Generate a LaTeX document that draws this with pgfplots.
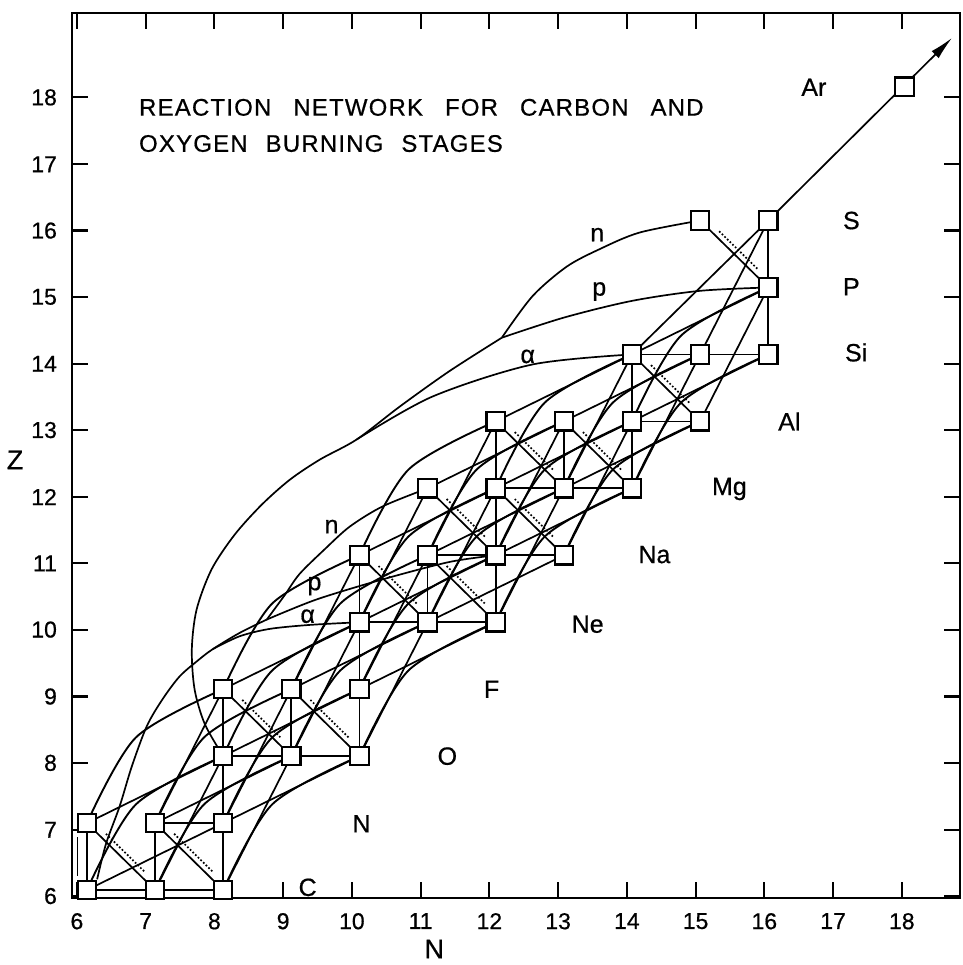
\documentclass[border=0pt]{standalone}
\usepackage{fontspec}
\setmainfont{Liberation Sans}[FakeBold=0.6]
\newfontfamily\lett[LetterSpace=5, FakeBold=0.6]{Liberation Sans}
\newfontfamily\lbl[FakeBold=0.6]{Liberation Sans}
\usepackage{pgfplots}
\pgfplotsset{compat=1.18}
\usetikzlibrary{arrows.meta}
\pgfplotsset{
  net/.style={black, line width=0.85pt, no markers, unbounded coords=jump},
  dots/.style={black, line width=0.85pt, densely dotted, no markers, unbounded coords=jump},
  arc/.style={black, line width=0.95pt, no markers, smooth},
  hion/.style={black, line width=0.85pt, no markers, smooth},
}
\begin{document}
\begin{tikzpicture}
\begin{axis}[
  scale only axis, width=444.5pt, height=443pt,
  xmin=5.78, xmax=18.815, ymin=5.88, ymax=19.10,
  axis line style={line width=1.3pt},
  xtick={5.853,6.862,7.871,8.88,9.889,10.898,11.907,12.916,13.925,14.934,15.943,16.952,17.961},
  xticklabels={6,7,8,9,10,11,12,13,14,15,16,17,18},
  ytick={5.91,6.90,7.90,8.89,9.89,10.88,11.87,12.87,13.86,14.86,15.85,16.84,17.84},
  yticklabels={6,7,8,9,10,11,12,13,14,15,16,17,18},
  tick align=inside, major tick length=8pt,
  tick style={line width=1.1pt, black},
  /pgf/number format/assume math mode=true,
  ticklabel style={font=\lbl\fontsize{11.5}{13}\selectfont},
  xticklabel style={yshift=-4pt},
  yticklabel style={xshift=-4pt},
  clip=false,
]
% n-capture (horizontal) links
\addplot[net] coordinates {
 (6,6) (8,6) (nan,nan) (7,7) (8,7) (nan,nan) (8,8) (10,8) (nan,nan)
 (10,10) (12,10) (nan,nan) (11,11) (13,11) (nan,nan) (12,12) (14,12) (nan,nan)
 (14,13) (15,13) (nan,nan) (14,14) (16,14)
};
% p-capture (vertical) links
\addplot[net] coordinates {
 (6,6) (6,7) (nan,nan) (7,6) (7,7) (nan,nan) (8,6) (8,9) (nan,nan) (9,8) (9,9) (nan,nan)
 (10,8) (10,11) (nan,nan) (11,10) (11,11) (nan,nan) (12,10) (12,13) (nan,nan)
 (13,12) (13,13) (nan,nan) (14,12) (14,14) (nan,nan) (16,14) (16,16) (nan,nan)
 (5.86,6.21) (5.86,6.79)
};
% beta / (p,n) diagonals
\addplot[net] coordinates {
 (6,7) (7,6) (nan,nan) (7,7) (8,6) (nan,nan) (8,9) (9,8) (nan,nan) (9,9) (10,8) (nan,nan)
 (10,11) (11,10) (nan,nan) (11,11) (12,10) (nan,nan) (11,12) (12,11) (nan,nan)
 (12,12) (13,11) (nan,nan) (12,13) (13,12) (nan,nan) (13,13) (14,12) (nan,nan)
 (14,14) (15,13) (nan,nan) (15,16) (16,15)
};
\addplot[dots] coordinates {
 (6.28,6.84) (6.84,6.28) (nan,nan) (7.28,6.84) (7.84,6.28) (nan,nan)
 (8.28,8.84) (8.84,8.28) (nan,nan) (9.28,8.84) (9.84,8.28) (nan,nan)
 (10.28,10.84) (10.84,10.28) (nan,nan) (11.28,10.84) (11.84,10.28) (nan,nan)
 (11.28,11.84) (11.84,11.28) (nan,nan) (12.28,11.84) (12.84,11.28) (nan,nan)
 (12.28,12.84) (12.84,12.28) (nan,nan) (13.28,12.84) (13.84,12.28) (nan,nan)
 (14.28,13.84) (14.84,13.28) (nan,nan) (15.28,15.84) (15.84,15.28)
};
% (alpha,p) links
\addplot[net] coordinates {
 (6,6) (8,7) (nan,nan) (6,7) (8,8) (nan,nan) (7,7) (9,8) (nan,nan) (8,7) (10,8) (nan,nan)
 (8,8) (10,9) (nan,nan) (8,9) (10,10) (nan,nan) (9,9) (11,10) (nan,nan) (10,9) (12,10) (nan,nan)
 (10,10) (12,11) (nan,nan) (10,11) (12,12) (nan,nan) (11,10) (13,11) (nan,nan)
 (11,11) (13,12) (nan,nan) (11,12) (13,13) (nan,nan) (12,11) (14,12) (nan,nan)
 (12,12) (14,13) (nan,nan) (12,13) (14,14) (nan,nan) (13,12) (15,13) (nan,nan)
 (13,13) (15,14) (nan,nan) (14,13) (16,14) (nan,nan) (14,14) (16,15)
};
% (alpha,n) links
\addplot[net] coordinates {
 (7,6) (8,8) (nan,nan) (7,7) (8,9) (nan,nan) (8,6) (9,8) (nan,nan) (8,7) (9,9) (nan,nan)
 (9,8) (10,10) (nan,nan) (9,9) (10,11) (nan,nan) (10,8) (11,10) (nan,nan) (10,9) (11,11) (nan,nan)
 (10,10) (11,12) (nan,nan) (11,10) (12,12) (nan,nan) (11,11) (12,13) (nan,nan)
 (12,10) (13,12) (nan,nan) (12,11) (13,13) (nan,nan) (13,11) (14,13) (nan,nan)
 (13,12) (14,14) (nan,nan) (14,12) (15,14) (nan,nan) (15,13) (16,15) (nan,nan)
 (15,14) (16,16) (nan,nan) (14,14) (16,16)
};
% (alpha,gamma) arcs
\addplot[arc] coordinates {(6,6) (6.72,7.28) (8,8)};
\addplot[arc] coordinates {(6,7) (6.72,8.28) (8,9)};
\addplot[arc] coordinates {(7,6) (7.72,7.28) (9,8)};
\addplot[arc] coordinates {(7,7) (7.72,8.28) (9,9)};
\addplot[arc] coordinates {(8,6) (8.72,7.28) (10,8)};
\addplot[arc] coordinates {(8,7) (8.72,8.28) (10,9)};
\addplot[arc] coordinates {(8,8) (8.72,9.28) (10,10)};
\addplot[arc] coordinates {(8,9) (8.72,10.28) (10,11)};
\addplot[arc] coordinates {(9,8) (9.72,9.28) (11,10)};
\addplot[arc] coordinates {(9,9) (9.72,10.28) (11,11)};
\addplot[arc] coordinates {(10,8) (10.72,9.28) (12,10)};
\addplot[arc] coordinates {(10,9) (10.72,10.28) (12,11)};
\addplot[arc] coordinates {(10,10) (10.72,11.28) (12,12)};
\addplot[arc] coordinates {(10,11) (10.72,12.28) (12,13)};
\addplot[arc] coordinates {(11,10) (11.72,11.28) (13,12)};
\addplot[arc] coordinates {(11,11) (11.72,12.28) (13,13)};
\addplot[arc] coordinates {(12,10) (12.72,11.28) (14,12)};
\addplot[arc] coordinates {(12,11) (12.72,12.28) (14,13)};
\addplot[arc] coordinates {(12,12) (12.72,13.28) (14,14)};
\addplot[arc] coordinates {(13,11) (13.72,12.28) (15,13)};
\addplot[arc] coordinates {(13,12) (13.72,13.28) (15,14)};
\addplot[arc] coordinates {(14,12) (14.72,13.28) (16,14)};
\addplot[arc] coordinates {(14,13) (14.72,14.28) (16,15)};
% 12C + 12C
\addplot[hion] coordinates {(6.15,6.16) (6.28,6.69) (6.48,7.25) (6.66,7.85) (6.88,8.45) (7.11,8.85) (7.36,9.19) (7.63,9.43) (7.85,9.60) (8.24,9.84) (8.64,10.04)};
\addplot[hion] coordinates {(8.64,10.04) (8.90,10.40) (9.12,10.72) (9.49,11.09) (9.86,11.43) (10.34,11.73) (11,12)};
\addplot[hion] coordinates {(8.64,10.04) (9.37,10.34) (10.34,10.64) (11.32,10.90) (12,11)};
\addplot[hion] coordinates {(7.85,9.60) (8.24,9.79) (8.68,9.90) (9.27,9.96) (10,10)};
% 16O + 16O
\addplot[hion] coordinates {(8,8) (7.73,8.48) (7.58,9.00) (7.54,9.60) (7.61,10.19) (7.83,10.79) (8.17,11.31) (8.57,11.76) (8.98,12.13) (9.42,12.43) (9.96,12.73) (10.59,13.22) (11.32,13.75) (12.09,14.25)};
\addplot[hion] coordinates {(9.96,12.73) (11.07,13.37) (12.54,13.85) (14,14)};
\addplot[hion] coordinates {(12.09,14.25) (12.54,14.87) (13.04,15.31) (13.52,15.57) (14.11,15.82) (15,16)};
\addplot[hion] coordinates {(12.09,14.25) (13.0,14.55) (14.0,14.80) (15.0,14.95) (16,15)};
% path out to argon and beyond
\addplot[black, line width=0.85pt, no markers, -{Latex[length=12pt,width=5pt]}] coordinates {(16,16) (18.7,18.73)};
% nuclides
\addplot[only marks, mark=square*, mark size=4.6pt, mark options={fill=white, draw=black, line width=1.1pt}] coordinates {
 (6,6) (7,6) (8,6) (6,7) (7,7) (8,7) (8,8) (9,8) (10,8) (8,9) (9,9) (10,9)
 (10,10) (11,10) (12,10) (10,11) (11,11) (12,11) (13,11)
 (11,12) (12,12) (13,12) (14,12) (12,13) (13,13) (14,13) (15,13)
 (14,14) (15,14) (16,14) (16,15) (15,16) (16,16) (18,18)
};
% labels
\node[anchor=west, inner sep=0pt, font=\lett\fontsize{12}{13}\selectfont] at (axis cs:6.76,17.69) {REACTION\hspace{11pt}NETWORK\hspace{11pt}FOR\hspace{11pt}CARBON\hspace{11pt}AND};
\node[anchor=west, inner sep=0pt, font=\lett\fontsize{12}{13}\selectfont] at (axis cs:6.76,17.15) {OXYGEN\hspace{9pt}BURNING\hspace{9pt}STAGES};
\begin{scope}[every node/.style={font=\lbl\fontsize{12.5}{14}\selectfont}]
\node at (axis cs:16.67,17.99) {Ar};
\node at (axis cs:17.22,16.0) {S};
\node at (axis cs:17.22,15.01) {P};
\node at (axis cs:17.29,14.03) {Si};
\node at (axis cs:16.31,13.0) {Al};
\node at (axis cs:15.43,11.99) {Mg};
\node at (axis cs:14.33,11.01) {Na};
\node at (axis cs:13.35,9.97) {Ne};
\node at (axis cs:11.94,9.0) {F};
\node at (axis cs:11.29,8.0) {O};
\node at (axis cs:10.03,6.99) {N};
\node at (axis cs:9.24,6.04) {C};
\end{scope}
\begin{scope}[every node/.style={font=\lbl\fontsize{12.5}{14}\selectfont}]
\node at (axis cs:13.49,15.79) {n};
\node at (axis cs:13.52,14.94) {p};
\node at (axis cs:12.47,13.97) {α};
\node at (axis cs:9.59,11.43) {n};
\node at (axis cs:9.34,10.54) {p};
\node at (axis cs:9.24,10.09) {α};
\end{scope}
\node[font=\lbl\fontsize{13.5}{15}\selectfont] at (rel axis cs:0.408,-0.0576) {N};
\node[font=\lbl\fontsize{13.5}{15}\selectfont] at (rel axis cs:-0.064,0.495) {Z};
\end{axis}
\path ([xshift=-36pt,yshift=-33pt]current axis.south west) rectangle ([xshift=1pt,yshift=6.5pt]current axis.north east);
\end{tikzpicture}
\end{document}
